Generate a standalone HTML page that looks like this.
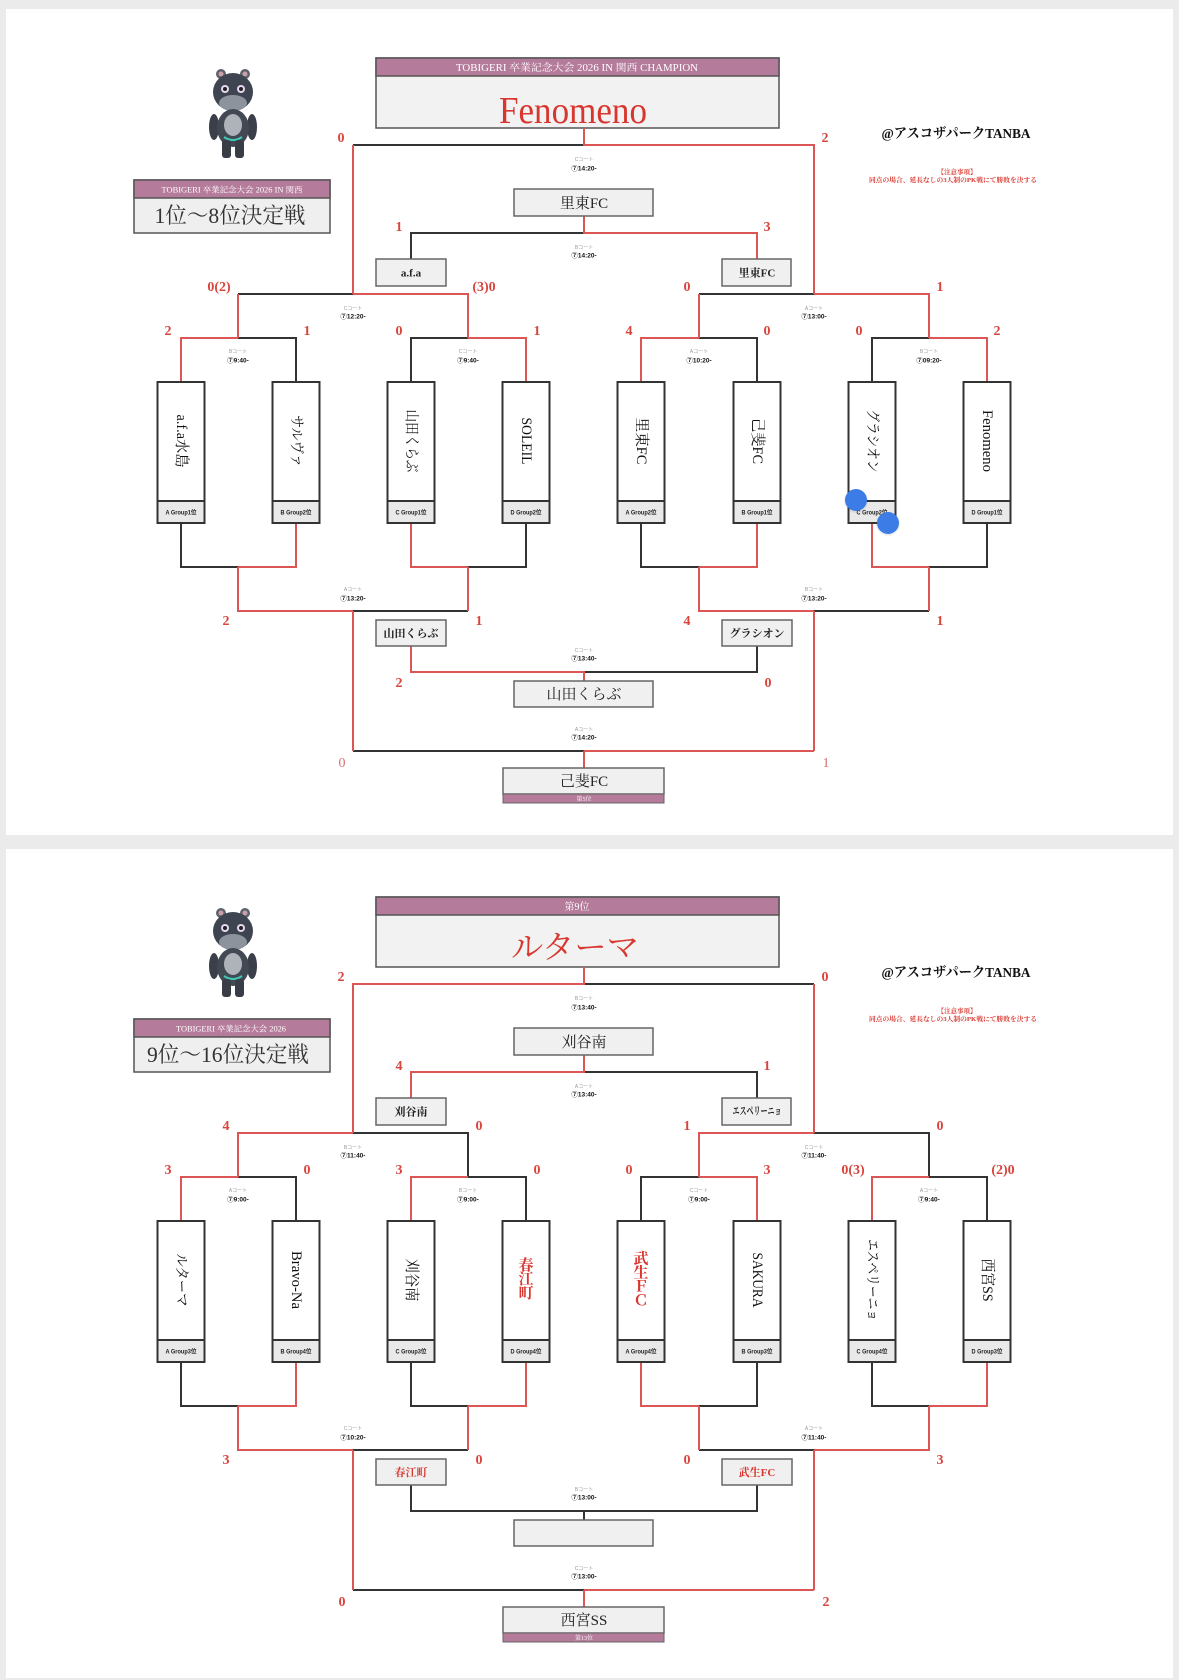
<!DOCTYPE html>
<html><head><meta charset="utf-8">
<style>
html,body{margin:0;padding:0;background:#ebebeb;width:1179px;height:1680px;overflow:hidden;}
svg{display:block;}
.s{font-family:"Liberation Serif","Noto Serif CJK SC",serif;}
.sc{font-family:"Liberation Serif","Noto Serif CJK SC",serif;font-weight:bold;fill:#d9453d;font-size:14px;text-anchor:middle;}
.sl{font-family:"Liberation Serif","Noto Serif CJK SC",serif;fill:#dc7070;font-size:14px;text-anchor:middle;}
.ct{font-family:"Liberation Sans","Noto Sans CJK JP",sans-serif;font-size:5px;fill:#999;text-anchor:middle;}
.tm{font-family:"Liberation Sans","Noto Sans CJK JP",sans-serif;font-size:6.5px;font-weight:bold;fill:#111;text-anchor:middle;}
.bk{fill:none;stroke:#333;stroke-width:2;}
.rd{fill:none;stroke:#dc5656;stroke-width:2;}
.tb{fill:#fff;stroke:#333;stroke-width:2;}
.gb{fill:#e9e9e9;stroke:#333;stroke-width:2;}
.gt{font-family:"Liberation Sans","Noto Sans CJK JP",sans-serif;font-size:6px;font-weight:bold;fill:#222;text-anchor:middle;}
.nm{font-family:"Liberation Serif","Noto Serif CJK SC",serif;font-size:15px;fill:#111;text-anchor:middle;dominant-baseline:central;}
.nr{font-family:"Liberation Serif","Noto Serif CJK SC",serif;font-size:15px;fill:#d9372f;text-anchor:middle;dominant-baseline:central;font-weight:bold;}
.sb{fill:#f0f0f0;stroke:#666;stroke-width:1.5;}
.st{font-family:"Liberation Serif","Noto Serif CJK SC",serif;font-size:11px;font-weight:bold;fill:#222;text-anchor:middle;}
.str{font-family:"Liberation Serif","Noto Serif CJK SC",serif;font-size:11px;font-weight:bold;fill:#d9372f;text-anchor:middle;}
.bt{font-family:"Liberation Serif","Noto Serif CJK SC",serif;font-size:15px;fill:#222;text-anchor:middle;}
.pk{fill:#b57b9b;stroke:#555;stroke-width:1.5;}
.wt{font-family:"Liberation Serif","Noto Serif CJK SC",serif;fill:#fff;text-anchor:middle;}
</style></head><body>
<svg width="1179" height="1680" viewBox="0 0 1179 1680" xmlns="http://www.w3.org/2000/svg">
<rect x="0" y="0" width="1179" height="1680" fill="#ebebeb"/>

<!-- ================= CARD 1 ================= -->
<g>
<rect x="6" y="9" width="1167" height="826" fill="#fff"/>
<!-- mascot -->
<g>
<circle cx="221" cy="74" r="5" fill="#5d626c"/><circle cx="245" cy="74" r="5" fill="#5d626c"/>
<circle cx="221" cy="74" r="2.5" fill="#c9a0a8"/><circle cx="245" cy="74" r="2.5" fill="#c9a0a8"/>
<ellipse cx="233" cy="92" rx="20" ry="19" fill="#3f4550"/>
<ellipse cx="233" cy="103" rx="14" ry="8" fill="#8d939c"/>
<circle cx="225" cy="89" r="4" fill="#e6d8f0"/><circle cx="241" cy="89" r="4" fill="#e6d8f0"/>
<circle cx="225" cy="89" r="2" fill="#222"/><circle cx="241" cy="89" r="2" fill="#222"/>
<ellipse cx="214" cy="127" rx="5" ry="13" fill="#3a3f49"/><ellipse cx="252" cy="127" rx="5" ry="13" fill="#3a3f49"/>
<ellipse cx="233" cy="128" rx="16" ry="19" fill="#434953"/>
<ellipse cx="233" cy="125" rx="9" ry="11" fill="#aeb3ba"/>
<path d="M224 137 Q233 143 242 137" stroke="#3fc8b5" stroke-width="2" fill="none"/>
<rect x="222" y="140" width="9" height="18" rx="3" fill="#383d46"/><rect x="235" y="140" width="9" height="18" rx="3" fill="#383d46"/>
</g>
<!-- champion -->
<rect x="376" y="58" width="403" height="70" fill="#f2f2f2" stroke="#555" stroke-width="1.5"/>
<rect x="376" y="58" width="403" height="18" class="pk"/>
<text x="577" y="71" font-size="10" class="wt" textLength="242" lengthAdjust="spacingAndGlyphs">TOBIGERI 卒業記念大会 2026  IN 関西 CHAMPION</text>
<text x="573" y="123" font-size="38" fill="#d8372f" text-anchor="middle" class="s" textLength="148" lengthAdjust="spacingAndGlyphs">Fenomeno</text>
<!-- title -->
<rect x="134" y="180" width="196" height="53" fill="#efefef" stroke="#555" stroke-width="1.5"/>
<rect x="134" y="180" width="196" height="18" class="pk"/>
<text x="232" y="192.5" font-size="8" class="wt" textLength="141" lengthAdjust="spacingAndGlyphs">TOBIGERI 卒業記念大会 2026  IN 関西</text>
<text x="230" y="223" font-size="22" fill="#333" text-anchor="middle" class="s" textLength="151" lengthAdjust="spacingAndGlyphs">1位～8位決定戦</text>
<!-- venue -->
<text x="956" y="138" font-size="14" font-weight="bold" fill="#111" text-anchor="middle" class="s" textLength="149" lengthAdjust="spacingAndGlyphs">@アスコザパークTANBA</text>
<text x="957" y="174" font-size="6.5" font-weight="bold" fill="#d9372f" text-anchor="middle" class="s">【注意事項】</text>
<text x="953" y="182" font-size="6.5" font-weight="bold" fill="#d9372f" text-anchor="middle" class="s" textLength="168" lengthAdjust="spacingAndGlyphs">同点の場合、延長なしの3人制のPK戦にて勝敗を決する</text>

<!-- lines -->
<path class="bk" d="M353 145H584 M238 294H353 M699 294H814 M238 338H296V382 M411 382V338H468 M699 338H757V382 M872 382V338H929 M584 233H411V259 M181 523V567H238 M468 567H526V523 M641 523V567H699 M929 567H987V523 M353 611H468 M814 611H929 M584 672H757V646 M353 751H584"/>
<path class="rd" d="M584 128V145H814V294 M353 145V294 M353 294H468V338 M238 294V338 M814 294H929V338 M699 294V338 M181 382V338H238 M468 338H526V382 M641 382V338H699 M929 338H987V382 M584 216V233H757V259 M238 567H296V523 M411 523V567H468 M699 567H757V523 M872 523V567H929 M238 567V611H353 M468 567V611 M699 567V611H814 M929 567V611 M353 611V751 M814 611V751 M584 751H814 M584 751V768 M411 646V672H584V681"/>

<!-- team boxes -->
<rect x="157.5" y="382" width="47" height="141" class="tb"/><rect x="157.5" y="501" width="47" height="22" class="gb"/>
<rect x="272.5" y="382" width="47" height="141" class="tb"/><rect x="272.5" y="501" width="47" height="22" class="gb"/>
<rect x="387.5" y="382" width="47" height="141" class="tb"/><rect x="387.5" y="501" width="47" height="22" class="gb"/>
<rect x="502.5" y="382" width="47" height="141" class="tb"/><rect x="502.5" y="501" width="47" height="22" class="gb"/>
<rect x="617.5" y="382" width="47" height="141" class="tb"/><rect x="617.5" y="501" width="47" height="22" class="gb"/>
<rect x="733.5" y="382" width="47" height="141" class="tb"/><rect x="733.5" y="501" width="47" height="22" class="gb"/>
<rect x="848.5" y="382" width="47" height="141" class="tb"/><rect x="848.5" y="501" width="47" height="22" class="gb"/>
<rect x="963.5" y="382" width="47" height="141" class="tb"/><rect x="963.5" y="501" width="47" height="22" class="gb"/>
<text x="181" y="514.5" class="gt" textLength="31" lengthAdjust="spacingAndGlyphs">A Group1位</text>
<text x="296" y="514.5" class="gt" textLength="31" lengthAdjust="spacingAndGlyphs">B Group2位</text>
<text x="411" y="514.5" class="gt" textLength="31" lengthAdjust="spacingAndGlyphs">C Group1位</text>
<text x="526" y="514.5" class="gt" textLength="31" lengthAdjust="spacingAndGlyphs">D Group2位</text>
<text x="641" y="514.5" class="gt" textLength="31" lengthAdjust="spacingAndGlyphs">A Group2位</text>
<text x="757" y="514.5" class="gt" textLength="31" lengthAdjust="spacingAndGlyphs">B Group1位</text>
<text x="872" y="514.5" class="gt" textLength="31" lengthAdjust="spacingAndGlyphs">C Group2位</text>
<text x="987" y="514.5" class="gt" textLength="31" lengthAdjust="spacingAndGlyphs">D Group1位</text>
<text class="nm" transform="translate(181,441) rotate(90)" textLength="53" lengthAdjust="spacingAndGlyphs">a.f.a水島</text>
<text class="nm" transform="translate(296,441) rotate(90)" textLength="52" lengthAdjust="spacingAndGlyphs">サルヴァ</text>
<text class="nm" transform="translate(411,441) rotate(90)" textLength="63" lengthAdjust="spacingAndGlyphs">山田くらぶ</text>
<text class="nm" transform="translate(526,441) rotate(90)" textLength="47" lengthAdjust="spacingAndGlyphs">SOLEIL</text>
<text class="nm" transform="translate(641,441) rotate(90)" textLength="47" lengthAdjust="spacingAndGlyphs">里東FC</text>
<text class="nm" transform="translate(757,441) rotate(90)" textLength="46" lengthAdjust="spacingAndGlyphs">己斐FC</text>
<text class="nm" transform="translate(872,441) rotate(90)" textLength="63" lengthAdjust="spacingAndGlyphs">グラシオン</text>
<text class="nm" transform="translate(987,441) rotate(90)" textLength="62" lengthAdjust="spacingAndGlyphs">Fenomeno</text>

<!-- small boxes -->
<rect x="514" y="189" width="139" height="27" class="sb"/><text x="584" y="208" class="bt">里東FC</text>
<rect x="376" y="259" width="70" height="27" class="sb"/><text x="411" y="276.5" class="st">a.f.a</text>
<rect x="722" y="259" width="69" height="27" class="sb"/><text x="757" y="276.5" class="st">里東FC</text>
<rect x="376" y="620" width="70" height="26" class="sb"/><text x="411" y="637" class="st">山田くらぶ</text>
<rect x="722" y="620" width="70" height="26" class="sb"/><text x="757" y="637" class="st" font-size="10">グラシオン</text>
<rect x="514" y="681" width="139" height="26" class="sb"/><text x="584" y="699" class="bt">山田くらぶ</text>
<rect x="503" y="768" width="161" height="26" class="sb"/>
<rect x="503" y="794" width="161" height="9" fill="#b57b9b" stroke="#666" stroke-width="1"/>
<text x="584" y="786" class="bt" font-size="16">己斐FC</text>
<text x="584" y="801" font-size="6" class="wt">第5位</text>

<!-- scores -->
<text x="341" y="142" class="sc">0</text><text x="825" y="142" class="sc">2</text>
<text x="399" y="231" class="sc">1</text><text x="767" y="231" class="sc">3</text>
<text x="219" y="291" class="sc">0(2)</text><text x="484" y="291" class="sc">(3)0</text>
<text x="687" y="291" class="sc">0</text><text x="940" y="291" class="sc">1</text>
<text x="168" y="335" class="sc">2</text><text x="307" y="335" class="sc">1</text>
<text x="399" y="335" class="sc">0</text><text x="537" y="335" class="sc">1</text>
<text x="629" y="335" class="sc">4</text><text x="767" y="335" class="sc">0</text>
<text x="859" y="335" class="sc">0</text><text x="997" y="335" class="sc">2</text>
<text x="226" y="625" class="sc">2</text><text x="479" y="625" class="sc">1</text>
<text x="687" y="625" class="sc">4</text><text x="940" y="625" class="sc">1</text>
<text x="399" y="687" class="sc">2</text><text x="768" y="687" class="sc">0</text>
<text x="342" y="767" class="sl">0</text><text x="826" y="767" class="sl">1</text>

<!-- court labels -->
<text x="584" y="161" class="ct">Cコート</text><text x="584" y="170.5" class="tm">⑦14:20-</text>
<text x="584" y="249" class="ct">Bコート</text><text x="584" y="257.5" class="tm">⑦14:20-</text>
<text x="353" y="310" class="ct">Cコート</text><text x="353" y="318.5" class="tm">⑦12:20-</text>
<text x="814" y="310" class="ct">Aコート</text><text x="814" y="318.5" class="tm">⑦13:00-</text>
<text x="238" y="353" class="ct">Bコート</text><text x="238" y="362.5" class="tm">⑦9:40-</text>
<text x="468" y="353" class="ct">Cコート</text><text x="468" y="362.5" class="tm">⑦9:40-</text>
<text x="699" y="353" class="ct">Aコート</text><text x="699" y="362.5" class="tm">⑦10:20-</text>
<text x="929" y="353" class="ct">Bコート</text><text x="929" y="362.5" class="tm">⑦09:20-</text>
<text x="353" y="591" class="ct">Aコート</text><text x="353" y="600.5" class="tm">⑦13:20-</text>
<text x="814" y="591" class="ct">Bコート</text><text x="814" y="600.5" class="tm">⑦13:20-</text>
<text x="584" y="652" class="ct">Cコート</text><text x="584" y="660.5" class="tm">⑦13:40-</text>
<text x="584" y="731" class="ct">Aコート</text><text x="584" y="739.5" class="tm">⑦14:20-</text>

<!-- blue dots -->
<circle cx="856" cy="501" r="12" fill="#000" opacity="0.06"/>
<circle cx="888" cy="524" r="12" fill="#000" opacity="0.06"/>
<circle cx="856" cy="500" r="11" fill="#3b7ce6"/>
<circle cx="888" cy="523" r="11" fill="#3b7ce6"/>
</g>

<!-- ================= CARD 2 ================= -->
<rect x="6" y="849" width="1167" height="829" fill="#fff"/>
<g transform="translate(0,839)">
<g>
<circle cx="221" cy="74" r="5" fill="#5d626c"/><circle cx="245" cy="74" r="5" fill="#5d626c"/>
<circle cx="221" cy="74" r="2.5" fill="#c9a0a8"/><circle cx="245" cy="74" r="2.5" fill="#c9a0a8"/>
<ellipse cx="233" cy="92" rx="20" ry="19" fill="#3f4550"/>
<ellipse cx="233" cy="103" rx="14" ry="8" fill="#8d939c"/>
<circle cx="225" cy="89" r="4" fill="#e6d8f0"/><circle cx="241" cy="89" r="4" fill="#e6d8f0"/>
<circle cx="225" cy="89" r="2" fill="#222"/><circle cx="241" cy="89" r="2" fill="#222"/>
<ellipse cx="214" cy="127" rx="5" ry="13" fill="#3a3f49"/><ellipse cx="252" cy="127" rx="5" ry="13" fill="#3a3f49"/>
<ellipse cx="233" cy="128" rx="16" ry="19" fill="#434953"/>
<ellipse cx="233" cy="125" rx="9" ry="11" fill="#aeb3ba"/>
<path d="M224 137 Q233 143 242 137" stroke="#3fc8b5" stroke-width="2" fill="none"/>
<rect x="222" y="140" width="9" height="18" rx="3" fill="#383d46"/><rect x="235" y="140" width="9" height="18" rx="3" fill="#383d46"/>
</g>
<rect x="376" y="58" width="403" height="70" fill="#f2f2f2" stroke="#555" stroke-width="1.5"/>
<rect x="376" y="58" width="403" height="18" class="pk"/>
<text x="577" y="71" font-size="10" class="wt">第9位</text>
<text x="575" y="119" font-size="32" fill="#d8372f" text-anchor="middle" class="s" textLength="128" lengthAdjust="spacingAndGlyphs">ルターマ</text>
<rect x="134" y="180" width="196" height="53" fill="#efefef" stroke="#555" stroke-width="1.5"/>
<rect x="134" y="180" width="196" height="18" class="pk"/>
<text x="231" y="192.5" font-size="8" class="wt" textLength="110" lengthAdjust="spacingAndGlyphs">TOBIGERI 卒業記念大会 2026</text>
<text x="228" y="223" font-size="22" fill="#333" text-anchor="middle" class="s" textLength="162" lengthAdjust="spacingAndGlyphs">9位～16位決定戦</text>
<text x="956" y="138" font-size="14" font-weight="bold" fill="#111" text-anchor="middle" class="s" textLength="149" lengthAdjust="spacingAndGlyphs">@アスコザパークTANBA</text>
<text x="957" y="174" font-size="6.5" font-weight="bold" fill="#d9372f" text-anchor="middle" class="s">【注意事項】</text>
<text x="953" y="182" font-size="6.5" font-weight="bold" fill="#d9372f" text-anchor="middle" class="s" textLength="168" lengthAdjust="spacingAndGlyphs">同点の場合、延長なしの3人制のPK戦にて勝敗を決する</text>

<path class="bk" d="M584 145H814 M353 294H468V338 M814 294H929V338 M238 338H296V382 M468 338H526V382 M641 382V338H699 M929 338H987V382 M584 233H757V259 M181 523V567H238 M411 523V567H468 M699 567H757V523 M872 523V567H929 M353 611H468 M699 611H814 M353 751H584 M411 646V672H757V646 M584 672V681"/>
<path class="rd" d="M584 128V145H353V294 M814 145V294 M238 338V294H353 M699 338V294H814 M181 382V338H238 M411 382V338H468 M699 338H757V382 M872 382V338H929 M411 259V233H584V216 M238 567H296V523 M468 567H526V523 M641 523V567H699 M929 567H987V523 M238 567V611H353 M468 567V611 M699 567V611 M929 567V611H814 M353 611V751 M814 611V751 M584 751H814 M584 751V768"/>

<rect x="157.5" y="382" width="47" height="141" class="tb"/><rect x="157.5" y="501" width="47" height="22" class="gb"/>
<rect x="272.5" y="382" width="47" height="141" class="tb"/><rect x="272.5" y="501" width="47" height="22" class="gb"/>
<rect x="387.5" y="382" width="47" height="141" class="tb"/><rect x="387.5" y="501" width="47" height="22" class="gb"/>
<rect x="502.5" y="382" width="47" height="141" class="tb"/><rect x="502.5" y="501" width="47" height="22" class="gb"/>
<rect x="617.5" y="382" width="47" height="141" class="tb"/><rect x="617.5" y="501" width="47" height="22" class="gb"/>
<rect x="733.5" y="382" width="47" height="141" class="tb"/><rect x="733.5" y="501" width="47" height="22" class="gb"/>
<rect x="848.5" y="382" width="47" height="141" class="tb"/><rect x="848.5" y="501" width="47" height="22" class="gb"/>
<rect x="963.5" y="382" width="47" height="141" class="tb"/><rect x="963.5" y="501" width="47" height="22" class="gb"/>
<text x="181" y="514.5" class="gt" textLength="31" lengthAdjust="spacingAndGlyphs">A Group3位</text>
<text x="296" y="514.5" class="gt" textLength="31" lengthAdjust="spacingAndGlyphs">B Group4位</text>
<text x="411" y="514.5" class="gt" textLength="31" lengthAdjust="spacingAndGlyphs">C Group3位</text>
<text x="526" y="514.5" class="gt" textLength="31" lengthAdjust="spacingAndGlyphs">D Group4位</text>
<text x="641" y="514.5" class="gt" textLength="31" lengthAdjust="spacingAndGlyphs">A Group4位</text>
<text x="757" y="514.5" class="gt" textLength="31" lengthAdjust="spacingAndGlyphs">B Group3位</text>
<text x="872" y="514.5" class="gt" textLength="31" lengthAdjust="spacingAndGlyphs">C Group4位</text>
<text x="987" y="514.5" class="gt" textLength="31" lengthAdjust="spacingAndGlyphs">D Group3位</text>
<text class="nm" transform="translate(181,441) rotate(90)" textLength="53" lengthAdjust="spacingAndGlyphs">ルターマ</text>
<text class="nm" transform="translate(296,441) rotate(90)" textLength="58" lengthAdjust="spacingAndGlyphs">Bravo-Na</text>
<text class="nm" transform="translate(411,441) rotate(90)" textLength="43" lengthAdjust="spacingAndGlyphs">刈谷南</text>
<text x="526" y="427" class="nr">春</text><text x="526" y="441" class="nr">江</text><text x="526" y="455" class="nr">町</text>
<text x="641" y="420.5" class="nr">武</text><text x="641" y="434.5" class="nr">生</text><text x="641" y="448.5" class="nr">Ｆ</text><text x="641" y="462.5" class="nr">Ｃ</text>
<text class="nm" transform="translate(757,441) rotate(90)" textLength="55" lengthAdjust="spacingAndGlyphs">SAKURA</text>
<text class="nm" transform="translate(872,441) rotate(90)" textLength="82" lengthAdjust="spacingAndGlyphs">エスペリーニョ</text>
<text class="nm" transform="translate(987,441) rotate(90)" textLength="43" lengthAdjust="spacingAndGlyphs">西宮SS</text>

<rect x="514" y="189" width="139" height="27" class="sb"/><text x="584" y="208" class="bt">刈谷南</text>
<rect x="376" y="259" width="70" height="27" class="sb"/><text x="411" y="276.5" class="st">刈谷南</text>
<rect x="722" y="259" width="69" height="27" class="sb"/><text x="757" y="275.5" class="st" font-size="8.5" textLength="49" lengthAdjust="spacingAndGlyphs">エスペリーニョ</text>
<rect x="376" y="620" width="70" height="26" class="sb"/><text x="411" y="637" class="str">春江町</text>
<rect x="722" y="620" width="70" height="26" class="sb"/><text x="757" y="637" class="str">武生FC</text>
<rect x="514" y="681" width="139" height="26" class="sb"/>
<rect x="503" y="768" width="161" height="26" class="sb"/>
<rect x="503" y="794" width="161" height="9" fill="#b57b9b" stroke="#666" stroke-width="1"/>
<text x="584" y="786" class="bt" font-size="16">西宮SS</text>
<text x="584" y="801" font-size="6" class="wt">第13位</text>

<text x="341" y="142" class="sc">2</text><text x="825" y="142" class="sc">0</text>
<text x="399" y="231" class="sc">4</text><text x="767" y="231" class="sc">1</text>
<text x="226" y="291" class="sc">4</text><text x="479" y="291" class="sc">0</text>
<text x="687" y="291" class="sc">1</text><text x="940" y="291" class="sc">0</text>
<text x="168" y="335" class="sc">3</text><text x="307" y="335" class="sc">0</text>
<text x="399" y="335" class="sc">3</text><text x="537" y="335" class="sc">0</text>
<text x="629" y="335" class="sc">0</text><text x="767" y="335" class="sc">3</text>
<text x="853" y="335" class="sc">0(3)</text><text x="1003" y="335" class="sc">(2)0</text>
<text x="226" y="625" class="sc">3</text><text x="479" y="625" class="sc">0</text>
<text x="687" y="625" class="sc">0</text><text x="940" y="625" class="sc">3</text>
<text x="342" y="767" class="sc">0</text><text x="826" y="767" class="sc">2</text>

<text x="584" y="161" class="ct">Bコート</text><text x="584" y="170.5" class="tm">⑦13:40-</text>
<text x="584" y="249" class="ct">Aコート</text><text x="584" y="257.5" class="tm">⑦13:40-</text>
<text x="353" y="310" class="ct">Bコート</text><text x="353" y="318.5" class="tm">⑦11:40-</text>
<text x="814" y="310" class="ct">Cコート</text><text x="814" y="318.5" class="tm">⑦11:40-</text>
<text x="238" y="353" class="ct">Aコート</text><text x="238" y="362.5" class="tm">⑦9:00-</text>
<text x="468" y="353" class="ct">Bコート</text><text x="468" y="362.5" class="tm">⑦9:00-</text>
<text x="699" y="353" class="ct">Cコート</text><text x="699" y="362.5" class="tm">⑦9:00-</text>
<text x="929" y="353" class="ct">Aコート</text><text x="929" y="362.5" class="tm">⑦9:40-</text>
<text x="353" y="591" class="ct">Cコート</text><text x="353" y="600.5" class="tm">⑦10:20-</text>
<text x="814" y="591" class="ct">Aコート</text><text x="814" y="600.5" class="tm">⑦11:40-</text>
<text x="584" y="652" class="ct">Bコート</text><text x="584" y="660.5" class="tm">⑦13:00-</text>
<text x="584" y="731" class="ct">Cコート</text><text x="584" y="739.5" class="tm">⑦13:00-</text>
</g>
</svg>
</body></html>
